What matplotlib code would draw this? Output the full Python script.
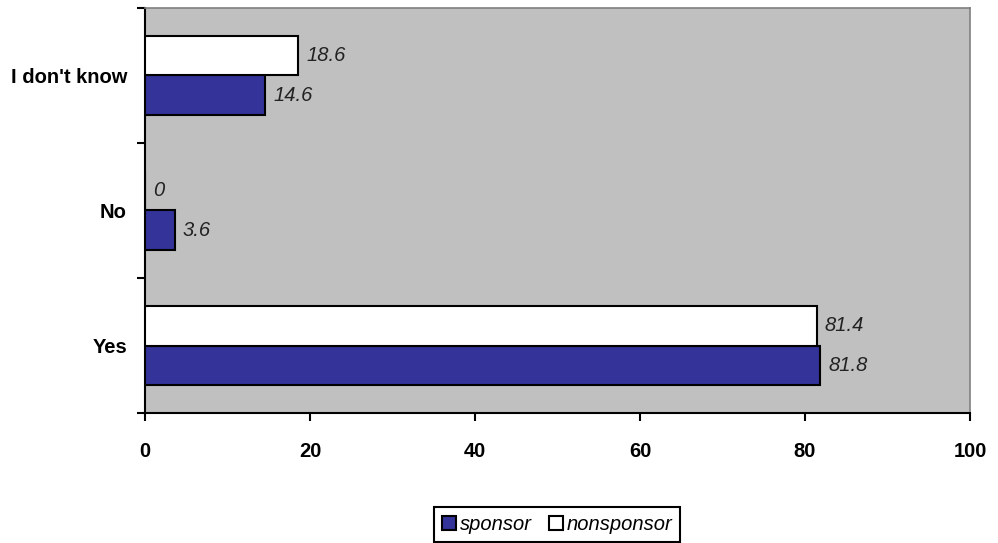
import matplotlib.pyplot as plt
from matplotlib.patches import Patch
import numpy as np

plt.rcParams['font.family'] = ['Liberation Sans', 'DejaVu Sans']

categories = ['Yes', 'No', "I don't know"]
sponsor = [81.8, 3.6, 14.6]
nonsponsor = [81.4, 0, 18.6]
x_ticks = [0, 20, 40, 60, 80, 100]

fig = plt.figure(figsize=(9.98, 5.43), dpi=100)
ax = fig.add_axes([0.1453, 0.2394, 0.8267, 0.7459])
ax.set_facecolor('#C0C0C0')

y = np.arange(len(categories))
h = 0.29
ax.barh(y - h / 2, sponsor, height=h, color='#333399', edgecolor='black', linewidth=1.5, zorder=3)
ax.barh(y + h / 2, nonsponsor, height=h, color='white', edgecolor='black', linewidth=1.5, zorder=3)

for i in range(len(categories)):
    ax.text(sponsor[i] + 1.0, y[i] - h / 2, f'{sponsor[i]:g}', va='center', ha='left',
            fontsize=14.5, style='italic', color='#222222')
    ax.text(nonsponsor[i] + 1.0, y[i] + h / 2, f'{nonsponsor[i]:g}', va='center', ha='left',
            fontsize=14.5, style='italic', color='#222222')

ax.set_xlim(0, 100)
ax.set_ylim(-0.5, 2.5)
ax.set_xticks(x_ticks)
ax.set_xticklabels([str(t) for t in x_ticks], fontweight='bold', fontsize=14.5)
ax.set_yticks(y)
ax.set_yticklabels(categories, fontweight='bold', fontsize=14.5)
ax.set_yticks([-0.5, 0.5, 1.5, 2.5], minor=True)
ax.tick_params(axis='y', which='major', length=0, pad=13)
ax.tick_params(axis='y', which='minor', length=6, width=1.5, direction='out')
ax.tick_params(axis='x', length=6, width=1.5, direction='out', pad=15)

for s in ['left', 'bottom']:
    ax.spines[s].set_linewidth(1.5)
    ax.spines[s].set_color('black')
for s in ['top', 'right']:
    ax.spines[s].set_linewidth(1.2)
    ax.spines[s].set_color('#808080')

handles = [Patch(facecolor='#333399', edgecolor='black', linewidth=1.5),
           Patch(facecolor='white', edgecolor='black', linewidth=1.5)]
leg = fig.legend(handles, ['sponsor', 'nonsponsor'], loc='upper center',
                 bbox_to_anchor=(0.5585, 0.067), borderaxespad=0, ncol=2, frameon=True,
                 fancybox=False, edgecolor='black', framealpha=1, handlelength=0.7,
                 handleheight=0.7, handletextpad=0.2, columnspacing=0.8, borderpad=0.4,
                 prop={'style': 'italic', 'size': 14.5})
leg.get_frame().set_linewidth(1.5)

fig.savefig('out.png', dpi=100)
